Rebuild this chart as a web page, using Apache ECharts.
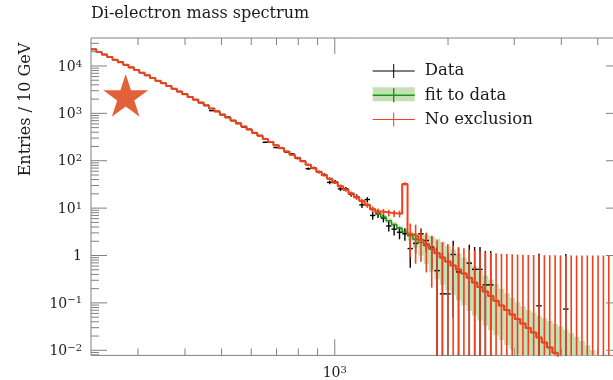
<!DOCTYPE html>
<html><head><meta charset="utf-8">
<script src="https://cdn.jsdelivr.net/npm/echarts@6/dist/echarts.min.js"></script>
<style>html,body{margin:0;padding:0;background:#fff}#c{width:613px;height:380px}</style>
</head><body><div id="c"></div>
<script>
// ---- bins (GeV) ----
const binEdges = [225.0,232.5,240.3,248.3,256.6,265.1,274.0,283.1,292.6,302.3,
312.4,322.9,333.6,344.8,356.3,368.2,380.4,393.1,406.3,419.8,
433.9,448.4,463.3,478.8,494.8,511.3,528.4,546.0,564.2,583.0,
602.5,622.6,643.4,664.8,687.0,709.9,733.6,758.1,783.4,809.5,
836.7,864.7,893.5,923.3,954.1,985.9,1018.8,1052.8,1087.9,1124.2,
1162.0,1200.8,1240.8,1282.2,1325.0,1369.2,1414.9,1462.1,1510.9,1561.3,
1613.6,1667.4,1723.1,1780.6,1840.0,1901.4,1964.8,2030.4,2098.1,2168.1,
2240.8,2315.6,2392.8,2472.7,2555.2,2640.4,2728.5,2819.6,2913.6,3010.9,
3111.7,3215.5,3322.8,3433.6,3548.1,3666.5,3788.9,3915.3,4045.9,4180.9,
4321.2,4465.4,4614.4,4768.4,4927.5,5091.9,5261.8,5437.4,5618.8,5806.3,6000.0];

// ---- fit to data ----
const fitValues = [22400,19800,17500,15400,13600,12000,10600,9310,8200,7210,
6340,5570,4900,4300,3770,3300,2900,2540,2220,1940,
1690,1460,1270,1100,948,820,708,611,527,454,
391,337,289,248,213,183,157,134,115,97.5,
82.6,69.8,58.9,49.5,41.6,34.8,29.1,24.3,20.3,16.9,
14.1,11.7,9.44,7.85,6.53,5.43,4.52,3.76,3.13,2.60,
2.21,1.88,1.60,1.35,1.11,0.912,0.750,0.617,0.506,0.415,
0.339,0.271,0.217,0.173,0.139,0.111,0.0883,0.0710,0.0570,0.0458,
0.0368,0.0296,0.0238,0.0186,0.0146,0.0114,0.00891,0.00695,0.00542,0.00422,
0.00327,0.00254,0.00197,0.00152,0.00118,0.000910,0.000702,0.000541,0.000416,0.000320];

const fitBandHigh = [null,null,null,null,null,null,null,null,null,null,
null,null,null,null,null,null,null,null,null,null,
null,null,null,null,null,null,null,null,null,null,
null,null,null,null,null,null,null,null,null,null,
null,null,null,null,44.6,37.3,31.2,26.1,21.7,18.1,
15.1,12.9,10.4,8.81,7.33,6.10,5.07,4.22,3.59,3.13,
2.99,2.85,2.72,2.57,2.26,1.95,1.60,1.35,1.11,0.908,
0.741,0.593,0.474,0.379,0.310,0.248,0.198,0.159,0.128,0.103,
0.0843,0.0710,0.0625,0.0537,0.0472,0.0414,0.0363,0.0318,0.0272,0.0232,
0.0193,0.0157,0.0127,0.0101,0.00796,0.00630,0.00485,0.00374,0.00288,0.00221];

const fitBandLow = [null,null,null,null,null,null,null,null,null,null,
null,null,null,null,null,null,null,null,null,null,
null,null,null,null,null,null,null,null,null,null,
null,null,null,null,null,null,null,null,null,null,
null,null,null,null,38.8,32.5,27.2,22.7,18.9,15.8,
13.2,10.7,8.61,7.00,5.82,4.84,4.03,3.35,2.66,2.07,
1.46,0.989,0.668,0.447,0.313,0.240,0.184,0.145,0.113,0.0887,
0.0676,0.0541,0.0423,0.0330,0.0264,0.0206,0.0164,0.0129,0.0104,0.00815,
0.00655,0.00514,0.00413,0.00316,0.00248,0.00189,0.00148,0.00113,0.000859,0.000668,
0.000519,0.000403,0.000312,0.000242,0.000187,0.000144,0.000111,0.0000857,0.0000659,0.0000507];

// ---- No exclusion ----
const noExclusionValues = [22400,19800,17500,15400,13600,12000,10600,9310,8200,7210,
6340,5570,4900,4300,3770,3300,2900,2540,2220,1940,
1690,1460,1270,1100,948,820,708,611,527,454,
391,337,289,248,213,183,157,134,115,97.5,
82.6,69.8,58.9,49.5,41.6,34.8,29.1,24.3,20.3,16.9,
14.1,11.7,9.44,8.51,8.32,7.94,7.76,7.59,32.4,2.82,
2.57,2.14,1.74,1.41,1.11,0.912,0.750,0.617,0.506,0.415,
0.339,0.271,0.217,0.173,0.139,0.111,0.0883,0.0710,0.0570,0.0458,
0.0368,0.0296,0.0238,0.0186,0.0146,0.0114,0.00891,0.00695,0.00542,0.00422,
0.00327,0.00254,0.00197,0.00152,0.00118,0.000910,0.000702,0.000541,0.000416,0.000320];

const noExclusionErrUp = [67,63,60,56,52,49,46,43,41,38,
36,34,32,30,28,26,24,23,21,20,
18.5,17.2,16,14.9,13.9,12.9,12,11.1,10.3,9.6,
8.9,8.3,7.7,7.1,6.6,6.1,5.6,5.2,4.8,4.4,
4.1,3.8,3.5,3.2,2.9,2.7,2.4,2.2,2.0,1.85,
1.7,1.55,1.4,1.3,1.3,1.27,1.25,1.24,2.6,1.9,
1.9,1.4,1.3,1.2,1,1,1,1,1,1,
1,1,1,1,1,1,1,1,1,1,
1,1,1,1,1,1,1,1,1,1,
1,1,1,1,1,1,1,1,1,1];

const noExclusionErrDown = [67,63,60,56,52,49,46,43,41,38,
36,34,32,30,28,26,24,23,21,20,
18.5,17.2,16,14.9,13.9,12.9,12,11.1,10.3,9.6,
8.9,8.3,7.7,7.1,6.6,6.1,5.6,5.2,4.8,4.4,
4.1,3.8,3.5,3.2,2.9,2.7,2.4,2.2,2.0,1.85,
1.7,1.55,1.4,1.3,1.3,1.27,1.25,1.24,2.6,1.9,
1.9,1.4,1.3,1.2,1.11,0.912,0.750,0.617,0.506,0.415,
0.339,0.271,0.217,0.173,0.139,0.111,0.0883,0.0710,0.0570,0.0458,
0.0368,0.0296,0.0238,0.0186,0.0146,0.0114,0.00891,0.00695,0.00542,0.00422,
0.00327,0.00254,0.00197,0.00152,0.00118,0.000910,0.000702,0.000541,0.000416,0.000320];

// ---- Data ----
const dataValues = [22300,19900,17400,15500,13500,12100,10500,9350,8150,7250,
6300,5600,4870,4330,3750,3320,2880,2560,2200,1960,
1670,1480,1140,1110,930,835,700,620,515,460,
384,342,245,252,190,186,152,139,112,99,
68,71,57.5,51,35,36,25.5,25.5,19.5,17.5,
11.7,15.2,7.0,7.6,6.2,4.2,3.6,3.1,2.9,1.4,
1.8,2.87,2.07,1.5,0.48,0.155,0.155,1.05,0.45,null,
0.69,0.51,0.51,0.24,0.24,null,null,null,null,null,
null,null,null,0.087,null,null,null,null,0.074,null,
null,null,null,null,null,null,null,null,null,null];

const dataErr = [75,70.5,66,62,58,55,51,48,45,43,
40,37,35,33,31,29,27,25,23,22,
20,19,17,17,15,14,13,12.5,11.3,10.7,
9.8,9.2,7.8,7.9,6.9,6.8,6.2,5.9,5.3,5.0,
4.1,4.2,3.8,3.6,3.0,3.0,2.5,2.5,2.2,2.1,
1.7,1.9,1.3,1.4,1.2,1.0,0.95,0.9,0.85,0.85,
0.7,0.85,0.9,1,1,1,1,1,1,null,
1,1,1,1,1,null,null,null,null,null,
null,null,null,1,null,null,null,null,1,null,
null,null,null,null,null,null,null,null,null,null];

// ---- axes ----
const xMin = 225, xMax = 5800;
const yMin = 0.0078, yMax = 38900;
const xTickDecades = [2, 3];
const yTickDecades = [-3, -2, -1, 0, 1, 2, 3, 4];

const SERIF = "'DejaVu Serif', 'Liberation Serif', serif";
const RED = '#F2401F', GREEN = '#16991A', BAND = '#C4E0B4', FRAME = '#808080', TXT = '#1b1b1b';

function binCenter(i) { return Math.sqrt(binEdges[i] * binEdges[i + 1]); }
function clampY(y, r) { return Math.max(r.y, Math.min(r.y + r.height, y)); }
function yPix(api, v, r) {
  if (!(v > 0)) return r.y + r.height;
  return clampY(api.coord([xMin, v])[1], r);
}
function xPix(api, v) { return api.coord([v, yMax])[0]; }

function decadeLabel(v) {
  const l = Math.log10(v), n = Math.round(l);
  if (Math.abs(l - n) > 1e-6) return '';
  if (n === 0) return '{b|1}';
  return '{b|10}{s|' + (n < 0 ? '\u2212' + (-n) : n) + '}';
}
const labelRich = {
  b: { fontFamily: SERIF, fontSize: 14, color: TXT, lineHeight: 16, verticalAlign: 'bottom' },
  s: { fontFamily: SERIF, fontSize: 10, color: TXT, lineHeight: 11, padding: [0, 0, 5, 0], verticalAlign: 'bottom' }
};

function ticks(decades, lo, hi) {
  const out = [];
  decades.forEach(d => {
    for (let m = 1; m <= 9; m++) {
      const v = m * Math.pow(10, d);
      if (v >= lo * 0.9999 && v <= hi * 1.0001) out.push({ v: v, major: m === 1 });
    }
  });
  return out;
}
const xTicks = ticks(xTickDecades, xMin, xMax);
const yTicks = ticks(yTickDecades, yMin, yMax);

const binItems = binEdges.slice(0, binEdges.length - 1).map((e, i) => [binCenter(i), yMax, i]);
function stepData(vals) {
  const pts = vals.map((v, i) => [binEdges[i], v]);
  pts.push([binEdges[binEdges.length - 1], vals[vals.length - 1]]);
  return pts;
}

function starPoints(cx, cy, R, r) {
  const pts = [];
  for (let k = 0; k < 10; k++) {
    const a = -Math.PI / 2 + k * Math.PI / 5;
    const rad = k % 2 === 0 ? R : r;
    pts.push([cx + rad * Math.cos(a), cy + rad * Math.sin(a)]);
  }
  return pts;
}

const crossIcon = 'path://M0,6.5L42,6.5L42,7.5L0,7.5Z M20.5,0L21.5,0L21.5,14L20.5,14Z';
const crossIconThick = 'path://M0,6.2L42,6.2L42,7.8L0,7.8Z M20.3,0L21.7,0L21.7,14L20.3,14Z';

const chart = echarts.init(document.getElementById('c'), null, { renderer: 'canvas', width: 613, height: 380 });
chart.setOption({
  animation: false,
  backgroundColor: '#ffffff',
  title: {
    text: 'Di-electron mass spectrum', left: 91, top: 6, padding: 0,
    textStyle: { fontFamily: SERIF, fontSize: 16, fontWeight: 'normal', color: TXT }
  },
  grid: { left: 91, right: -9, top: 38, bottom: 24.6, show: true, borderColor: FRAME, borderWidth: 1,
          backgroundColor: 'transparent', containLabel: false, outerBoundsMode: 'none' },
  xAxis: {
    type: 'log', logBase: 10, min: xMin, max: xMax,
    axisLine: { show: false }, axisTick: { show: false }, splitLine: { show: false },
    axisLabel: { margin: 9, formatter: decadeLabel, rich: labelRich, showMinLabel: false, showMaxLabel: false }
  },
  yAxis: {
    type: 'log', logBase: 10, min: yMin, max: yMax,
    axisLine: { show: false }, axisTick: { show: false }, splitLine: { show: false },
    axisLabel: { margin: 9, formatter: decadeLabel, rich: labelRich, showMinLabel: false, showMaxLabel: false, align: 'right' }
  },
  legend: {
    orient: 'vertical', left: 372.7, top: 62.5, padding: 0, z: 10,
    itemWidth: 42, itemHeight: 14, itemGap: 7.3, selectedMode: false,
    textStyle: { fontFamily: SERIF, fontSize: 16.5, color: TXT, lineHeight: 14, padding: [0, 0, 0, 5] },
    itemStyle: { borderWidth: 0 },
    data: [
      { name: 'Data', icon: crossIcon, itemStyle: { color: '#000000' } },
      { name: 'fit to data', icon: crossIconThick, itemStyle: { color: GREEN } },
      { name: 'No exclusion', icon: crossIcon, itemStyle: { color: RED } }
    ]
  },
  graphic: [
    { type: 'rect', z: 1, shape: { x: 372.7, y: 87.3, width: 42, height: 14 }, style: { fill: BAND } },
    { type: 'polygon', z: 1, shape: { points: starPoints(125.7, 97.6, 23.6, 9.0) }, style: { fill: '#E2603A' } },
    { type: 'text', z: 1, x: 26, y: 109.5, rotation: Math.PI / 2,
      style: { text: 'Entries / 10 GeV', fontFamily: SERIF, fontSize: 16, fill: TXT,
               align: 'center', verticalAlign: 'middle', textAlign: 'center', textVerticalAlign: 'middle' } }
  ],
  series: [
    { // fit band
      name: 'fit to data', type: 'custom', z: 1, silent: true, itemStyle: { color: GREEN },
      encode: { x: 0, y: 1 }, data: binItems,
      renderItem: function (params, api) {
        const i = api.value(2), r = params.coordSys;
        if (fitBandLow[i] == null) return;
        let x1 = xPix(api, binEdges[i]), x2 = xPix(api, binEdges[i + 1]);
        x1 = Math.max(x1, r.x); x2 = Math.min(x2, r.x + r.width);
        if (x2 <= x1) return;
        const y1 = yPix(api, fitBandHigh[i], r), y2 = yPix(api, fitBandLow[i], r);
        if (y2 - y1 <= 0) return;
        return { type: 'rect', shape: { x: x1, y: y1, width: x2 - x1 + 0.3, height: y2 - y1 }, style: { fill: BAND } };
      }
    },
    { // data crosses
      name: 'Data', type: 'custom', z: 2, silent: true, itemStyle: { color: '#000' },
      encode: { x: 0, y: 1 }, data: binItems,
      renderItem: function (params, api) {
        const i = api.value(2), r = params.coordSys;
        const v = dataValues[i];
        if (v == null) return;
        const xc = xPix(api, binCenter(i));
        if (xc > r.x + r.width) return;
        const children = [];
        if (v >= yMin && v <= yMax) {
          const y = api.coord([xMin, v])[1];
          children.push({ type: 'line', shape: { x1: xPix(api, binEdges[i]), y1: y, x2: Math.min(xPix(api, binEdges[i + 1]), r.x + r.width), y2: y },
                          style: { stroke: '#000', lineWidth: 1.4 } });
        }
        const e = dataErr[i] || 0;
        const ya = yPix(api, v + e, r), yb = yPix(api, v - e, r);
        if (yb > ya) children.push({ type: 'line', shape: { x1: xc, y1: ya, x2: xc, y2: yb }, style: { stroke: '#000', lineWidth: 1.4 } });
        return { type: 'group', children: children };
      }
    },
    { // fit line
      name: 'fit line', type: 'line', z: 3, step: 'end', showSymbol: false, symbol: 'none', silent: true,
      lineStyle: { color: GREEN, width: 1.5 }, data: stepData(fitValues), clip: true
    },
    { // No exclusion error bars
      name: 'No exclusion', type: 'custom', z: 4, silent: true, itemStyle: { color: RED },
      encode: { x: 0, y: 1 }, data: binItems,
      renderItem: function (params, api) {
        const i = api.value(2), r = params.coordSys;
        const xc = xPix(api, binCenter(i));
        if (xc > r.x + r.width) return;
        const v = noExclusionValues[i];
        const ya = yPix(api, v + noExclusionErrUp[i], r), yb = yPix(api, v - noExclusionErrDown[i], r);
        if (yb - ya < 0.5) return;
        return { type: 'line', shape: { x1: xc, y1: ya, x2: xc, y2: yb }, style: { stroke: RED, lineWidth: 1.6 } };
      }
    },
    { // No exclusion step line
      name: 'No exclusion line', type: 'line', z: 5, step: 'end', showSymbol: false, symbol: 'none', silent: true,
      lineStyle: { color: RED, width: 2 }, data: stepData(noExclusionValues), clip: true
    },
    { // frame ticks
      name: 'ticks', type: 'custom', z: 6, silent: true, encode: { x: 0, y: 1 }, data: [[1000, 1]],
      renderItem: function (params, api) {
        const r = params.coordSys, ch = [];
        const L = r.x, R = r.x + r.width, T = r.y, B = r.y + r.height;
        const st = { stroke: FRAME, lineWidth: 1 };
        yTicks.forEach(t => {
          const y = api.coord([xMin, t.v])[1], len = t.major ? 16 : 8;
          ch.push({ type: 'line', shape: { x1: L, y1: y, x2: L + len, y2: y }, style: st });
          ch.push({ type: 'line', shape: { x1: R, y1: y, x2: R - len, y2: y }, style: st });
        });
        xTicks.forEach(t => {
          const x = api.coord([t.v, yMin])[0], len = t.major ? 16 : 7;
          ch.push({ type: 'line', shape: { x1: x, y1: B, x2: x, y2: B - len }, style: st });
          ch.push({ type: 'line', shape: { x1: x, y1: T, x2: x, y2: T + len }, style: st });
        });
        return { type: 'group', children: ch };
      }
    }
  ]
});
</script>
</body></html>
